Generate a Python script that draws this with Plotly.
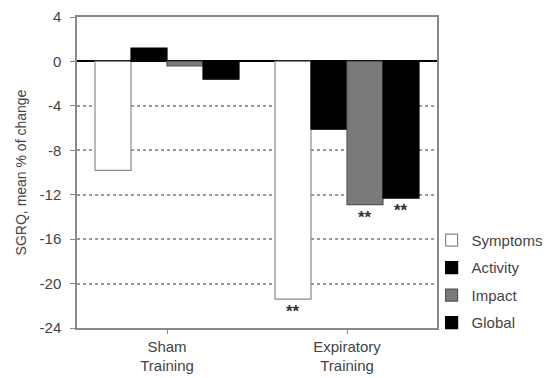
import plotly.graph_objects as go

groups = ["Sham<br>Training", "Expiratory<br>Training"]
series = ["Symptoms", "Activity", "Impact", "Global"]
symptoms = [-9.8, -21.4]
activity = [1.2, -6.1]
impact = [-0.4, -12.9]
global_ = [-1.6, -12.3]
sig_labels = [["", "**"], ["", ""], ["", "**"], ["", "**"]]
y_tickvals = [4, 0, -4, -8, -12, -16, -20, -24]
y_ticktext = ["4", "0", "-4", "-8", "-12", "-16", "-20", "-24"]

values = [symptoms, activity, impact, global_]
fills = ["white", "black", "#7a7a7a", "black"]
lines = ["#8a8a8a", "black", "#555555", "black"]

fig = go.Figure()
for name, vals, fc, lc in zip(series, values, fills, lines):
    fig.add_trace(go.Bar(
        x=groups, y=vals, name=name, legendgroup=name,
        marker=dict(color=fc, line=dict(color=lc, width=1.2)),
    ))

# significance markers below bars
offsets = [-0.3, -0.1, 0.1, 0.3]
for i, (vals, labs) in enumerate(zip(values, sig_labels)):
    for j, (v, lab) in enumerate(zip(vals, labs)):
        if lab:
            fig.add_annotation(
                x=j + offsets[i], y=v, xref="x", yref="y", text="<b>" + lab + "</b>",
                showarrow=False, yanchor="top", yshift=-1,
                font=dict(family="Liberation Sans, Arial", size=17, color="#333333"),
            )

fig.update_layout(
    width=550, height=370,
    margin=dict(l=69, r=121, t=9, b=50),
    barmode="group", bargap=0.2, bargroupgap=0,
    plot_bgcolor="white", paper_bgcolor="white",
    font=dict(family="Liberation Sans, Arial", size=14, color="#444444"),
    showlegend=True,
    legend=dict(
        x=0.985, xanchor="left", y=0.335, yanchor="top",
        font=dict(size=15, color="#444444"),
        tracegroupgap=5, traceorder="grouped",
        bgcolor="rgba(0,0,0,0)",
    ),
)
fig.update_xaxes(
    type="category", range=[-0.5, 1.5], automargin=False,
    showline=True, linecolor="#888888", linewidth=1.5, mirror=True,
    ticks="outside", ticklen=4, tickcolor="#888888",
    tickfont=dict(size=15, color="#444444"),
)
fig.update_yaxes(
    range=[-24, 4], tickvals=y_tickvals, ticktext=y_ticktext, automargin=False,
    showline=True, linecolor="#888888", linewidth=1.5, mirror=True,
    ticks="outside", ticklen=5, tickcolor="#888888", ticklabelstandoff=6,
    showgrid=True, gridcolor="#999999", griddash="dot", gridwidth=1.5,
    zeroline=True, zerolinecolor="black", zerolinewidth=2,
    title=dict(text="SGRQ, mean % of change", font=dict(size=14, color="#444444"), standoff=10),
    tickfont=dict(size=15, color="#444444"),
)

fig.write_html("out.html")
